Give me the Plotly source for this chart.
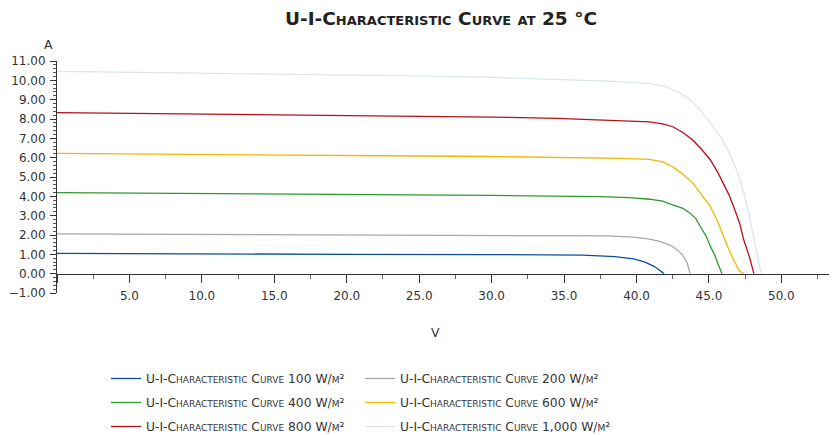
import plotly.graph_objects as go

# ---- data ----
names = ["U-I-Characteristic Curve 100 W/m²", "U-I-Characteristic Curve 200 W/m²",
         "U-I-Characteristic Curve 400 W/m²", "U-I-Characteristic Curve 600 W/m²",
         "U-I-Characteristic Curve 800 W/m²", "U-I-Characteristic Curve 1,000 W/m²"]

v100 = [0, 7, 20, 30, 36.3, 38.5, 39.8, 40.6, 41.2, 41.6, 41.9]
i100 = [1.05, 1.02, 1.0, 0.99, 0.96, 0.88, 0.76, 0.60, 0.38, 0.18, 0.0]

v200 = [0, 16, 30, 35.2, 38, 39.8, 40.8, 41.6, 42.3, 42.8, 43.2, 43.5, 43.7]
i200 = [2.06, 2.02, 2.0, 1.99, 1.95, 1.89, 1.80, 1.67, 1.48, 1.24, 0.95, 0.55, 0.0]

v400 = [0, 10, 21, 30, 37.5, 39.5, 40.9, 41.8, 42.5, 43.2, 43.7, 44.1, 44.4, 44.8, 45.1, 45.4, 45.6, 45.9]
i400 = [4.19, 4.15, 4.09, 4.05, 3.98, 3.93, 3.85, 3.75, 3.56, 3.38, 3.13, 2.85, 2.44, 1.95, 1.41, 0.95, 0.55, 0.0]

v600 = [0, 11, 22.5, 30, 35.9, 39, 40.9, 41.8, 42.5, 43.2, 43.9, 44.5, 45.1, 45.6, 46.0, 46.4, 46.7, 47.1, 47.4]
i600 = [6.22, 6.18, 6.1, 6.06, 6.01, 5.96, 5.91, 5.78, 5.53, 5.15, 4.67, 4.1, 3.47, 2.7, 1.92, 1.2, 0.72, 0.15, 0.0]

v800 = [0, 11, 23.7, 30, 34.5, 38, 40.9, 41.8, 42.5, 43.2, 43.9, 44.5, 45.1, 45.6, 46.0, 46.4, 46.7, 47.1, 47.4, 47.8, 48.1]
i800 = [8.33, 8.25, 8.16, 8.1, 8.03, 7.95, 7.85, 7.75, 7.6, 7.3, 6.9, 6.42, 5.88, 5.25, 4.67, 4.05, 3.47, 2.65, 1.75, 0.85, 0.0]

v1000 = [0, 10, 23.7, 30, 35, 38.5, 40.9, 42.0, 43.0, 43.8, 44.4, 45.1, 45.8, 46.4, 46.9, 47.4, 47.8, 48.2, 48.6]
i1000 = [10.46, 10.38, 10.24, 10.15, 10.05, 9.95, 9.83, 9.68, 9.35, 8.95, 8.45, 7.8, 7.08, 6.25, 5.36, 4.2, 2.95, 1.5, 0.0]

x_tickvals = [5, 10, 15, 20, 25, 30, 35, 40, 45, 50]

colors = ["#0d4c9c", "#a8a8a8", "#2d9a2d", "#f0b800", "#b50f1c", "#dde4ef"]
legends = ["legend", "legend2", "legend", "legend2", "legend", "legend2"]

series = [(v100, i100), (v200, i200), (v400, i400), (v600, i600), (v800, i800), (v1000, i1000)]

FONT = "DejaVu Sans"
TXT = "#333333"

# page has an 8px body margin: work in figure pixels = screen - 8
W, H = 829, 427
OFF = 8
L, R, T, B = 57 - OFF, 835 - OFF, 61 - OFF, 293 - OFF

fig = go.Figure()
for k in [5, 4, 3, 2, 1, 0]:
    v, i = series[k]
    fig.add_trace(go.Scatter(x=v, y=i, mode="lines", name=names[k],
                             line=dict(color=colors[k], width=1.3),
                             xaxis="x2" if k == 5 else "x", yaxis="y",
                             legend=legends[k], legendgroup=str(k),
                             legendrank=k))

leg_common = dict(orientation="v", xref="container", yref="container",
                  xanchor="left", yanchor="top", tracegroupgap=5,
                  font=dict(family=FONT, size=12.3, color=TXT, variant="small-caps"),
                  bgcolor="rgba(0,0,0,0)", traceorder="grouped")

fig.update_layout(
    width=W, height=H,
    margin=dict(l=L, r=W - R, t=T, b=H - B, autoexpand=False),
    paper_bgcolor="white", plot_bgcolor="white",
    showlegend=True,
    title=dict(text="<b>U-I-Characteristic Curve at 25 °C</b>",
               x=(441 - OFF) / W, xanchor="center", y=1 - (18.5 - OFF) / H, yanchor="middle",
               font=dict(family=FONT, size=18.5, color="#222222", variant="small-caps")),
    legend=dict(x=(106 - OFF) / W, y=1 - (364 - OFF) / H, **leg_common),
    legend2=dict(x=(360 - OFF) / W, y=1 - (364 - OFF) / H, **leg_common),
    # bottom axis: only tick labels
    xaxis=dict(range=[0, 53.7], domain=[0, 1], anchor="y",
               showline=False, ticks="", tickmode="array", tickvals=x_tickvals,
               tickformat=".1f", ticklabelstandoff=-6,
               showgrid=False, zeroline=False, automargin=False,
               tickfont=dict(family=FONT, size=12, color=TXT)),
    # axis line at I = 0 with tick marks
    xaxis2=dict(range=[0, 53.7], domain=[0, 1], overlaying="x", anchor="free",
                position=1 / 12, side="bottom",
                showline=True, linecolor="#333333", linewidth=1,
                ticks="outside", ticklen=8, tickcolor="#333333", dtick=5, tick0=0,
                showticklabels=False, automargin=False,
                minor=dict(dtick=2.5, ticks="outside", ticklen=4, tickcolor="#666666"),
                showgrid=False, zeroline=False),
    yaxis=dict(range=[-1, 11], domain=[0, 1], anchor="x",
               showline=True, linecolor="#333333", linewidth=1,
               ticks="outside", ticklen=6, tickcolor="#333333", dtick=1, tick0=0,
               tickformat=".2f", automargin=False, ticklabelstandoff=2,
               minor=dict(dtick=0.2, ticks="outside", ticklen=3, tickcolor="#555555"),
               showgrid=False, zeroline=False,
               tickfont=dict(family=FONT, size=12, color=TXT)),
    annotations=[
        dict(text="A", xref="paper", yref="paper",
             x=(48 - OFF - L) / (R - L), y=(B - (44 - OFF)) / (B - T),
             showarrow=False, font=dict(family=FONT, size=12.5, color=TXT),
             xanchor="center", yanchor="middle"),
        dict(text="V", xref="paper", yref="paper",
             x=(435 - OFF - L) / (R - L), y=(B - (332 - OFF)) / (B - T),
             showarrow=False, font=dict(family=FONT, size=12.5, color=TXT),
             xanchor="center", yanchor="middle"),
    ],
)

fig.write_html("out.html")
